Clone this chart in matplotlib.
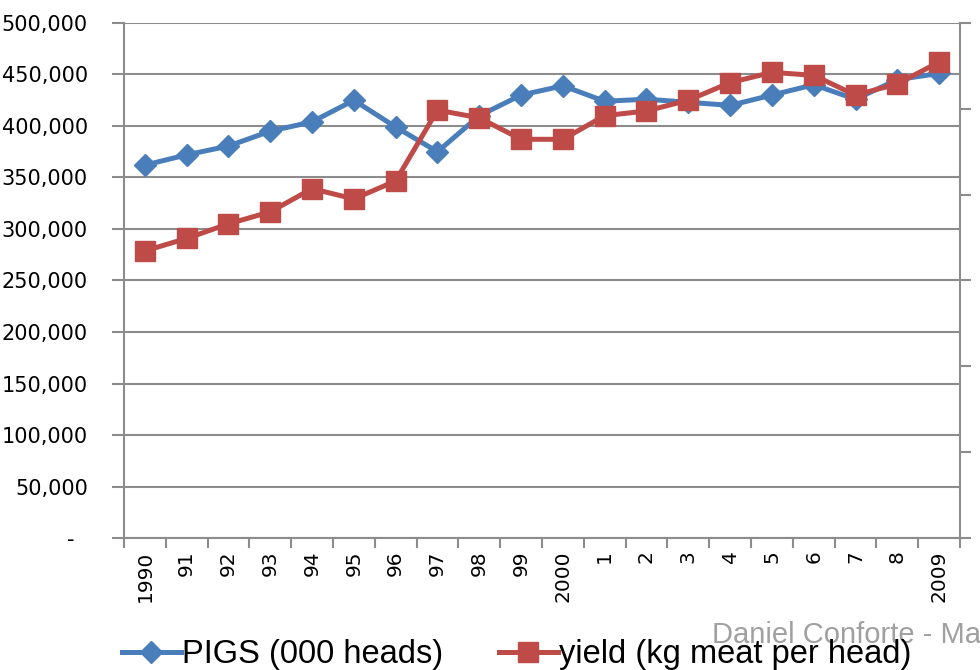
import numpy as np
import matplotlib.pyplot as plt
from matplotlib.lines import Line2D

# datos
anios = ["1990", "91", "92", "93", "94", "95", "96", "97", "98", "99",
         "2000", "1", "2", "3", "4", "5", "6", "7", "8", "2009"]
pigs = [362000, 372000, 380500, 395000, 404000, 425000, 399000, 375000, 410000, 430000,
        439000, 424000, 426000, 423000, 420000, 430000, 440000, 426000, 445000, 451000]
# rendimiento en el eje derecho (0-120)
yield_kg = [66.9, 69.8, 73.2, 76.0, 81.4, 79.0, 83.2, 99.7, 97.9, 92.9,
            92.9, 98.4, 99.5, 102.0, 106.1, 108.5, 107.8, 103.2, 105.8, 110.9]
y_ticks = [0, 50000, 100000, 150000, 200000, 250000, 300000, 350000, 400000, 450000, 500000]
y_labels = ["-  ", "50,000", "100,000", "150,000", "200,000", "250,000",
            "300,000", "350,000", "400,000", "450,000", "500,000"]

azul = '#4a7ebb'
rojo = '#be4b48'
gris = '#8c8c8c'
fuente = ['Liberation Sans', 'DejaVu Sans']

fig = plt.figure(figsize=(9.8, 6.7), dpi=100)
ax = fig.add_axes([0.1265, 0.197, 0.8531, 0.7687])
x = np.arange(len(anios))

ax.set_xlim(-0.5, len(anios) - 0.5)
ax.set_ylim(0, 500000)
ax.set_yticks(y_ticks)
ax.set_yticklabels(y_labels, fontsize=15)
ax.grid(axis='y', color=gris, lw=1.5)
ax.set_axisbelow(True)
ax.set_xticks(x)
ax.set_xticklabels(anios, rotation=90, fontsize=14.5)
ax.set_xticks(np.arange(-0.5, len(anios)), minor=True)
ax.tick_params(axis='x', which='major', length=0, pad=9)
ax.tick_params(axis='x', which='minor', length=7, color=gris, width=1.5)
ax.tick_params(axis='y', length=9, color=gris, width=1.5, pad=17)
for s in ['top', 'right']:
    ax.spines[s].set_visible(False)
for s in ['left', 'bottom']:
    ax.spines[s].set_color(gris)
    ax.spines[s].set_linewidth(1.5)

ax.plot(x, pigs, color=azul, lw=3.6, marker='D', ms=11, zorder=3)

ax2 = ax.twinx()
ax2.set_ylim(0, 120)
ax2.set_yticks(range(0, 121, 20))
ax2.set_yticklabels([])
ax2.tick_params(axis='y', length=8, color=gris, width=1.5)
for s in ['top', 'left', 'bottom']:
    ax2.spines[s].set_visible(False)
ax2.spines['right'].set_color(gris)
ax2.spines['right'].set_linewidth(1.5)
ax2.plot(x, yield_kg, color=rojo, lw=3.6, marker='s', ms=14, zorder=3)

h1 = Line2D([], [], color=azul, lw=3.6, marker='D', ms=11)
h2 = Line2D([], [], color=rojo, lw=3.6, marker='s', ms=14)
fig.legend([h1, h2], ["PIGS (000 heads)", "yield (kg meat per head)"],
           loc='lower left', bbox_to_anchor=(0.1245, 0.0), ncol=2, frameon=False,
           prop={'family': fuente, 'size': 23.5},
           handlelength=1.8, handletextpad=0.05, columnspacing=1.7,
           borderpad=0, borderaxespad=0)

fig.text(0.727, 0.04, "Daniel Conforte - Ma", color='#a0a0a0', fontsize=21,
         family=fuente)

fig.savefig('out.png', dpi=100)
